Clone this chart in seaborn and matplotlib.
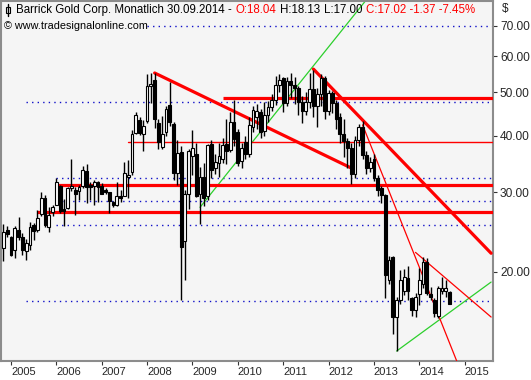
import numpy as np
import pandas as pd
import matplotlib
matplotlib.use("Agg")
import matplotlib.pyplot as plt
import seaborn as sns
from matplotlib.patches import Rectangle
from matplotlib.lines import Line2D

# ---------------- data (monthly OHLC, Nov 2004 .. Sep 2014) ----------------
months = pd.period_range("2004-11", "2014-09", freq="M")
open_ = [22.6, 24.8,
         23.9, 22.4, 24.8, 23.9, 22.3, 23.0, 25.4, 24.8, 26.9, 29.2, 25.1, 27.1,
         28.2, 31.0, 27.6, 27.7, 30.7, 30.3, 30.2, 31.0, 33.4, 31.1, 31.0, 31.6,
         31.0, 30.3, 30.0, 28.6, 28.2, 29.5, 29.5, 32.4, 33.2, 40.5, 43.4, 40.4,
         43.1, 51.5, 53.2, 42.7, 37.8, 40.9, 46.8, 42.5, 33.1, 36.8, 23.4, 29.7,
         36.1, 36.5, 29.8, 32.5, 29.5, 38.4, 33.9, 34.8, 35.6, 38.4, 37.2, 43.0,
         40.9, 35.2, 38.8, 36.5, 41.8, 44.0, 45.2, 41.0, 44.5, 46.3, 48.1, 51.9,
         53.6, 47.4, 53.0, 51.9, 51.0, 47.6, 45.3, 47.6, 50.9, 46.6, 49.5, 53.6,
         45.3, 49.7, 47.2, 44.1, 40.4, 38.9, 37.6, 33.0, 39.1, 41.8, 36.2, 34.0,
         35.6, 32.3, 30.7, 29.6, 19.2, 21.6, 15.9, 17.3, 18.2, 19.4, 17.5, 16.5,
         17.9, 18.8, 21.0, 17.9, 17.3, 16.0, 18.2, 18.2, 18.04]
high = [25.6, 25.3,
        24.0, 25.3, 26.5, 24.4, 23.6, 25.8, 25.7, 27.4, 30.1, 29.6, 27.9, 28.2,
        32.2, 31.1, 29.0, 30.9, 35.5, 30.8, 31.1, 34.3, 34.7, 31.6, 31.9, 31.8,
        31.5, 30.7, 30.1, 28.7, 31.6, 30.3, 35.1, 35.4, 41.2, 45.2, 44.1, 43.4,
        54.9, 55.0, 55.2, 43.7, 44.3, 46.5, 52.6, 43.0, 39.2, 38.0, 30.4, 37.5,
        41.2, 38.5, 34.2, 34.8, 38.4, 39.2, 36.5, 38.6, 39.6, 43.6, 45.2, 48.0,
        41.5, 38.5, 40.0, 44.0, 46.5, 47.0, 45.8, 47.5, 47.8, 49.5, 54.3, 54.9,
        54.1, 53.9, 55.0, 54.0, 51.5, 49.0, 50.0, 55.2, 56.0, 51.0, 54.7, 54.2,
        50.6, 50.2, 48.0, 45.0, 43.6, 39.5, 38.5, 40.0, 42.5, 43.2, 37.0, 36.0,
        36.5, 32.8, 31.0, 29.8, 21.7, 21.7, 17.6, 20.2, 20.3, 20.6, 17.6, 18.0,
        20.4, 21.6, 21.5, 18.5, 17.5, 18.6, 19.5, 19.2, 18.13]
low = [21.1, 23.9,
       21.7, 21.5, 23.5, 21.8, 21.3, 22.4, 23.5, 24.5, 26.6, 25.2, 24.5, 26.6,
       28.1, 27.0, 25.3, 27.6, 30.2, 26.8, 28.9, 30.7, 28.4, 28.9, 28.1, 28.6,
       29.7, 29.7, 27.0, 27.8, 28.0, 28.5, 29.4, 29.1, 32.8, 40.4, 40.1, 37.1,
       42.7, 47.2, 41.6, 37.4, 37.4, 40.0, 42.0, 32.0, 31.1, 17.3, 19.2, 27.5,
       32.8, 29.3, 25.6, 28.0, 28.8, 32.2, 33.0, 32.4, 34.8, 34.7, 36.8, 38.0,
       34.3, 34.0, 35.5, 36.0, 40.9, 41.5, 39.6, 40.0, 43.0, 45.5, 46.8, 49.9,
       45.2, 46.5, 48.5, 47.0, 44.5, 42.8, 44.6, 46.0, 44.0, 41.8, 46.5, 43.5,
       44.5, 45.0, 41.5, 38.6, 36.0, 34.0, 31.3, 32.3, 38.0, 35.5, 33.0, 33.3,
       31.8, 29.4, 28.4, 17.5, 18.8, 14.6, 13.4, 17.0, 17.8, 17.3, 16.0, 15.9,
       16.9, 18.4, 17.8, 17.3, 15.9, 15.8, 17.9, 17.6, 17.00]
close = [24.5, 24.3,
         21.8, 25.0, 23.9, 22.4, 23.2, 25.1, 24.6, 26.3, 29.2, 25.4, 26.7, 27.9,
         31.6, 27.3, 27.3, 30.7, 31.0, 29.8, 30.9, 33.6, 30.9, 30.9, 31.7, 30.9,
         29.8, 30.0, 28.7, 28.1, 29.4, 29.2, 33.1, 32.7, 40.4, 44.5, 40.5, 42.1,
         51.5, 52.2, 43.7, 38.8, 40.4, 45.8, 42.9, 33.1, 36.6, 22.7, 29.7, 37.0,
         37.7, 29.5, 32.5, 29.2, 38.1, 33.6, 35.1, 36.1, 38.2, 37.0, 43.0, 39.4,
         34.9, 37.7, 36.4, 42.2, 45.6, 45.5, 40.9, 44.5, 46.3, 48.1, 51.7, 53.2,
         47.4, 53.0, 51.9, 51.0, 47.6, 45.3, 47.6, 50.9, 46.6, 49.5, 53.6, 45.3,
         49.7, 47.4, 43.7, 40.4, 38.9, 37.6, 33.0, 39.1, 41.8, 36.2, 34.0, 35.0,
         32.3, 30.4, 29.6, 19.7, 21.3, 15.9, 17.3, 19.2, 19.5, 18.2, 16.5, 17.6,
         19.2, 21.0, 18.0, 17.6, 16.2, 18.4, 18.4, 18.39, 17.02]

year_labels = [str(y) for y in range(2005, 2016)]
price_ticks = [20, 30, 40, 50, 60, 70]

# support / resistance levels and trend lines (month, price)
red_levels = [(48.5, "2009-09"), (31.1, "2006-01"), (27.1, "2005-08")]
red_thin_levels = [(38.8, "2007-08")]
dotted_levels = [(70.0, "2008-01"), (47.5, "2005-05"), (32.3, "2006-01"),
                 (28.7, "2006-01"), (25.4, "2006-01"), (17.25, "2005-05")]
thick_trends = [[("2008-03", 55.1), ("2012-07", 33.96)],
                [("2011-09", 56.2), ("2015-08", 22.0)]]
thin_red_trends = [[("2012-10", 42.3), ("2014-11", 12.65)],
                   [("2013-12", 22.1), ("2015-08", 15.9)]]
green_trends = [[("2009-03", 27.8), ("2012-11", 80.0)],
                [("2013-07", 13.37), ("2015-08", 19.0)]]

# ---------------- helpers ----------------
base = pd.Period("2005-01", freq="M")
def midx(s):
    return (pd.Period(s, freq="M") - base).n

x = np.array([(p - base).n for p in months], dtype=float)
o = np.array(open_); h = np.array(high); l = np.array(low); c = np.array(close)

W, H = 531, 380
sns.set_theme(style="white")
plt.rcParams["font.family"] = ["Liberation Sans", "DejaVu Sans"]

fig = plt.figure(figsize=(W / 100, H / 100), dpi=100)
fig.patch.set_facecolor("white")
ax = fig.add_axes([1 / W, 19 / H, 492 / W, 360 / H])
ax.set_facecolor("#f5f5f5")
ax.set_yscale("log")
XMIN, XMAX = -2.645, 127.5

RIGHT = 127.5
blue = "#1010c8"
for lvl, start in dotted_levels:
    ax.plot([midx(start), RIGHT], [lvl, lvl], color=blue, lw=1.0,
            linestyle=(0, (1, 3)), zorder=1)
for lvl, start in red_levels:
    ax.plot([midx(start), RIGHT], [lvl, lvl], color="#ff0000", lw=2.3,
            solid_capstyle="butt", zorder=3)
for lvl, start in red_thin_levels:
    ax.plot([midx(start), RIGHT], [lvl, lvl], color="#ff0000", lw=1.0, zorder=3)

def seg_df(segs):
    rows = []
    for i, s in enumerate(segs):
        for d, p in s:
            rows.append({"m": midx(d), "price": p, "id": i})
    return pd.DataFrame(rows)

sns.lineplot(data=seg_df(thick_trends), x="m", y="price", units="id",
             estimator=None, sort=False, color="#ff0000", lw=2.3, ax=ax,
             zorder=3, legend=False)
sns.lineplot(data=seg_df(thin_red_trends), x="m", y="price", units="id",
             estimator=None, sort=False, color="#ff0000", lw=0.9, ax=ax,
             zorder=3, legend=False)
sns.lineplot(data=seg_df(green_trends), x="m", y="price", units="id",
             estimator=None, sort=False, color="#2ccf2c", lw=0.9, ax=ax,
             zorder=2, legend=False)

# candles
ax.vlines(x, l, h, color="black", lw=1.0, zorder=4)
up = c >= o
bottoms = np.minimum(o, c)
heights = np.maximum(np.abs(c - o), 0.08)
ax.bar(x[up], heights[up], bottom=bottoms[up], width=0.74, color="white",
       edgecolor="black", linewidth=0.8, zorder=5)
ax.bar(x[~up], heights[~up], bottom=bottoms[~up], width=0.74, color="black",
       edgecolor="black", linewidth=0.8, zorder=5)

ax.set_xlim(XMIN, XMAX)
ax.set_ylim(12.71, 79.5)
ax.set_xlabel(""); ax.set_ylabel("")

# axes styling
for sp in ax.spines.values():
    sp.set_color("#8c8c8c")
    sp.set_linewidth(1.5)
ax.set_xticks([12 * i for i in range(len(year_labels))])
ax.set_xticklabels(year_labels, fontsize=8, ha="left")
ax.tick_params(axis="x", direction="out", length=3, width=0.8, color="#333333",
               pad=1.5, bottom=True)
ax.yaxis.tick_right()
ax.yaxis.set_minor_locator(matplotlib.ticker.NullLocator())
ax.set_yticks(price_ticks)
ax.set_yticklabels([f"{v:.2f}" for v in price_ticks], fontsize=8.6)
ax.tick_params(axis="y", direction="out", length=3, width=0.8, color="#333333",
               pad=2, right=True, left=False)
ax.grid(False)

# header
renderer = fig.canvas.get_renderer()
def chain(pieces, x0, y, size):
    xx = x0
    for s, col in pieces:
        t = fig.text(xx / W, 1 - y / H, s, color=col, fontsize=size,
                     va="center", ha="left")
        bb = t.get_window_extent(renderer)
        xx += bb.width + 3.5

chain([("Barrick Gold Corp. Monatlich", "black"), ("30.09.2014 -", "black"),
       ("O:18.04", "#ff0000"), ("H:18.13", "black"), ("L:17.00", "black"),
       ("C:17.02 -1.37 -7.45%", "#ff0000")], 16, 10, 8.3)
fig.text(4 / W, 1 - 26 / H, "\u00a9 www.tradesignalonline.com", fontsize=7.8,
         va="center", ha="left", color="black")
fig.text(502 / W, 1 - 9 / H, "$", fontsize=8.6, va="center", ha="left")

# small candle icon
fig.add_artist(Line2D([7.5 / W, 7.5 / W], [1 - 4 / H, 1 - 16 / H],
                      transform=fig.transFigure, color="black", lw=1))
fig.add_artist(Rectangle((5.5 / W, 1 - 13 / H), 4 / W, 6 / H,
                         transform=fig.transFigure, facecolor="white",
                         edgecolor="black", lw=0.8))

fig.savefig("out.png", dpi=100)
